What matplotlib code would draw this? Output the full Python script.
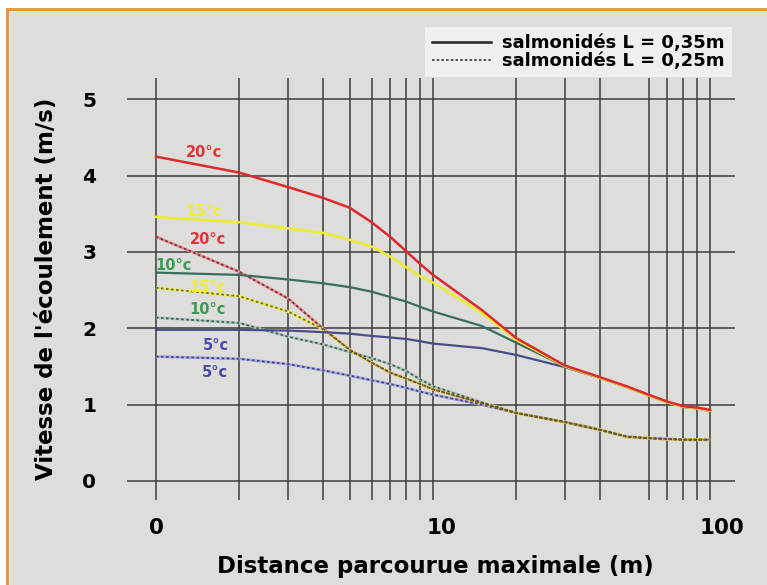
import matplotlib.pyplot as plt
from matplotlib.lines import Line2D
from matplotlib.patches import Rectangle
from matplotlib.ticker import FixedLocator, NullFormatter
from matplotlib.transforms import ScaledTranslation

plt.rcParams['font.family'] = 'DejaVu Sans'
plt.rcParams['font.weight'] = 'bold'

# distance (m), log axis
dist = [1, 2, 3, 4, 5, 6, 7, 8, 9, 10, 15, 20, 30, 40, 50, 60, 70, 80, 90, 100]

# salmonides L = 0,35m (solid)
v35_20 = [4.25, 4.04, 3.85, 3.71, 3.58, 3.39, 3.20, 3.01, 2.84, 2.70, 2.24, 1.87, 1.51, 1.36, 1.24, 1.13, 1.04, 0.98, 0.96, 0.93]
v35_15 = [3.46, 3.39, 3.31, 3.25, 3.16, 3.07, 2.94, 2.80, 2.68, 2.60, 2.20, 1.85, 1.50, 1.35, 1.23, 1.12, 1.03, 0.97, 0.95, 0.92]
v35_10 = [2.73, 2.70, 2.64, 2.59, 2.54, 2.48, 2.41, 2.35, 2.28, 2.22, 2.03, 1.81, 1.50, 1.35, 1.23, 1.12, 1.03, 0.97, 0.95, 0.92]
v35_5 = [1.98, 1.98, 1.97, 1.95, 1.93, 1.90, 1.88, 1.86, 1.83, 1.80, 1.74, 1.65, 1.49, 1.35, 1.23, 1.12, 1.03, 0.97, 0.95, 0.92]

# salmonides L = 0,25m (dotted)
v25_20 = [3.20, 2.74, 2.39, 2.00, 1.72, 1.55, 1.42, 1.34, 1.27, 1.20, 1.02, 0.89, 0.77, 0.67, 0.58, 0.56, 0.55, 0.54, 0.54, 0.54]
v25_15 = [2.53, 2.42, 2.22, 1.99, 1.72, 1.55, 1.42, 1.34, 1.27, 1.20, 1.02, 0.89, 0.77, 0.67, 0.58, 0.56, 0.55, 0.54, 0.54, 0.54]
v25_10 = [2.14, 2.07, 1.89, 1.79, 1.69, 1.61, 1.53, 1.44, 1.33, 1.24, 1.03, 0.89, 0.77, 0.67, 0.58, 0.56, 0.55, 0.54, 0.54, 0.54]
v25_5 = [1.63, 1.60, 1.53, 1.45, 1.38, 1.32, 1.27, 1.22, 1.17, 1.13, 1.00, 0.89, 0.77, 0.67, 0.58, 0.56, 0.55, 0.54, 0.54, 0.54]

x_major = [1, 10, 100]
x_labels = ['0', '10', '100']
x_minor = [2, 3, 4, 5, 6, 7, 8, 9, 20, 30, 40, 60, 70, 80, 90]

# curve labels: text, x, y, colour
tags = [
    ('20°c', 1.49, 4.30, '#e2333b'),
    ('15°c', 1.49, 3.53, '#eeee33'),
    ('20°c', 1.54, 3.16, '#e2333b'),
    ('10°c', 1.16, 2.82, '#3a9a55'),
    ('15°c', 1.53, 2.54, '#eeee33'),
    ('10°c', 1.54, 2.25, '#3a9a55'),
    ('5°c', 1.65, 1.77, '#4848a8'),
    ('5°c', 1.63, 1.42, '#4848a8'),
]

fig = plt.figure(figsize=(7.67, 5.85), dpi=100)
fig.patch.set_facecolor('white')
top = 1 - 9 / 585
left = 7 / 767
fig.patches.append(Rectangle((left, 0), 1, top, transform=fig.transFigure,
                             facecolor='#dddddb', edgecolor='none', zorder=-10))
fig.lines.append(Line2D([left, 1], [top, top], transform=fig.transFigure, color='#f0922e', lw=2))
fig.lines.append(Line2D([left, left], [0, top], transform=fig.transFigure, color='#f0922e', lw=2))

ax = fig.add_axes([127 / 767, 1 - 500 / 585, 608 / 767, 422 / 585])
ax.set_facecolor('none')
ax.set_xscale('log')
ax.set_xlim(0.786, 123)
ax.set_ylim(-0.25, 5.28)
for s in ax.spines.values():
    s.set_visible(False)

ax.xaxis.set_major_locator(FixedLocator(x_major))
ax.set_xticklabels(x_labels)
ax.xaxis.set_minor_locator(FixedLocator(x_minor))
ax.xaxis.set_minor_formatter(NullFormatter())
ax.set_yticks([0, 1, 2, 3, 4, 5])
ax.tick_params(which='both', length=0)
ax.tick_params(axis='x', labelsize=15.5, pad=13)
ax.tick_params(axis='y', labelsize=14.5, pad=22)
ax.grid(which='both', color='#3c3c3c', lw=1.1)
ax.set_axisbelow(True)

for lab, dx in zip(ax.get_xticklabels(), [0, 8, 12]):
    lab.set_transform(lab.get_transform() + ScaledTranslation(dx / 100, 0, fig.dpi_scale_trans))

# dotted curves: light colour underneath, dark dots on top
dotted = [
    (v25_5, '#a8a8dc', '#44448a'),
    (v25_10, '#a8ccb8', '#4a5866'),
    (v25_20, '#f08a8a', '#6a3a48'),
    (v25_15, '#eeee40', '#6a6a44'),
]
for vals, light, dark in dotted:
    ax.plot(dist, vals, color=light, lw=2, solid_capstyle='butt', zorder=3)
    ax.plot(dist, vals, color=dark, lw=1.3, ls=(0, (1.4, 1.4)), zorder=3.5)

ax.plot(dist, v35_5, color='#4a4c8c', lw=1.6, zorder=4)
ax.plot(dist, v35_10, color='#3b6e5c', lw=1.6, zorder=4)
ax.plot(dist, v35_15, color='#eeee2a', lw=1.8, zorder=4)
ax.plot(dist, v35_20, color='#e0282e', lw=1.8, zorder=4)

for txt, x, y, c in tags:
    ax.text(x, y, txt, color=c, fontsize=10.5, fontweight='bold', ha='center', va='center', zorder=5)

ax.set_xlabel('Distance parcourue maximale (m)', fontsize=16.5, fontweight='bold')
ax.set_ylabel("Vitesse de l'écoulement (m/s)", fontsize=16.5, fontweight='bold')
ax.xaxis.set_label_coords(0.508, -0.13)
ax.yaxis.set_label_coords(-0.113, 0.5)

handles = [Line2D([], [], color='#222222', lw=1.8),
           Line2D([], [], color='#444444', lw=1.3, ls=(0, (1.4, 1.2)))]
leg = fig.legend(handles, ['salmonidés L = 0,35m', 'salmonidés L = 0,25m'],
                 loc='upper right', bbox_to_anchor=(732 / 767, 1 - 27 / 585),
                 prop={'weight': 'bold', 'size': 13}, handlelength=3.3, handletextpad=0.6,
                 labelspacing=0.0, borderpad=0.4, borderaxespad=0,
                 fancybox=False, framealpha=1)
leg.get_frame().set_facecolor('#efefef')
leg.get_frame().set_edgecolor('none')

fig.savefig('out.png', dpi=100)
